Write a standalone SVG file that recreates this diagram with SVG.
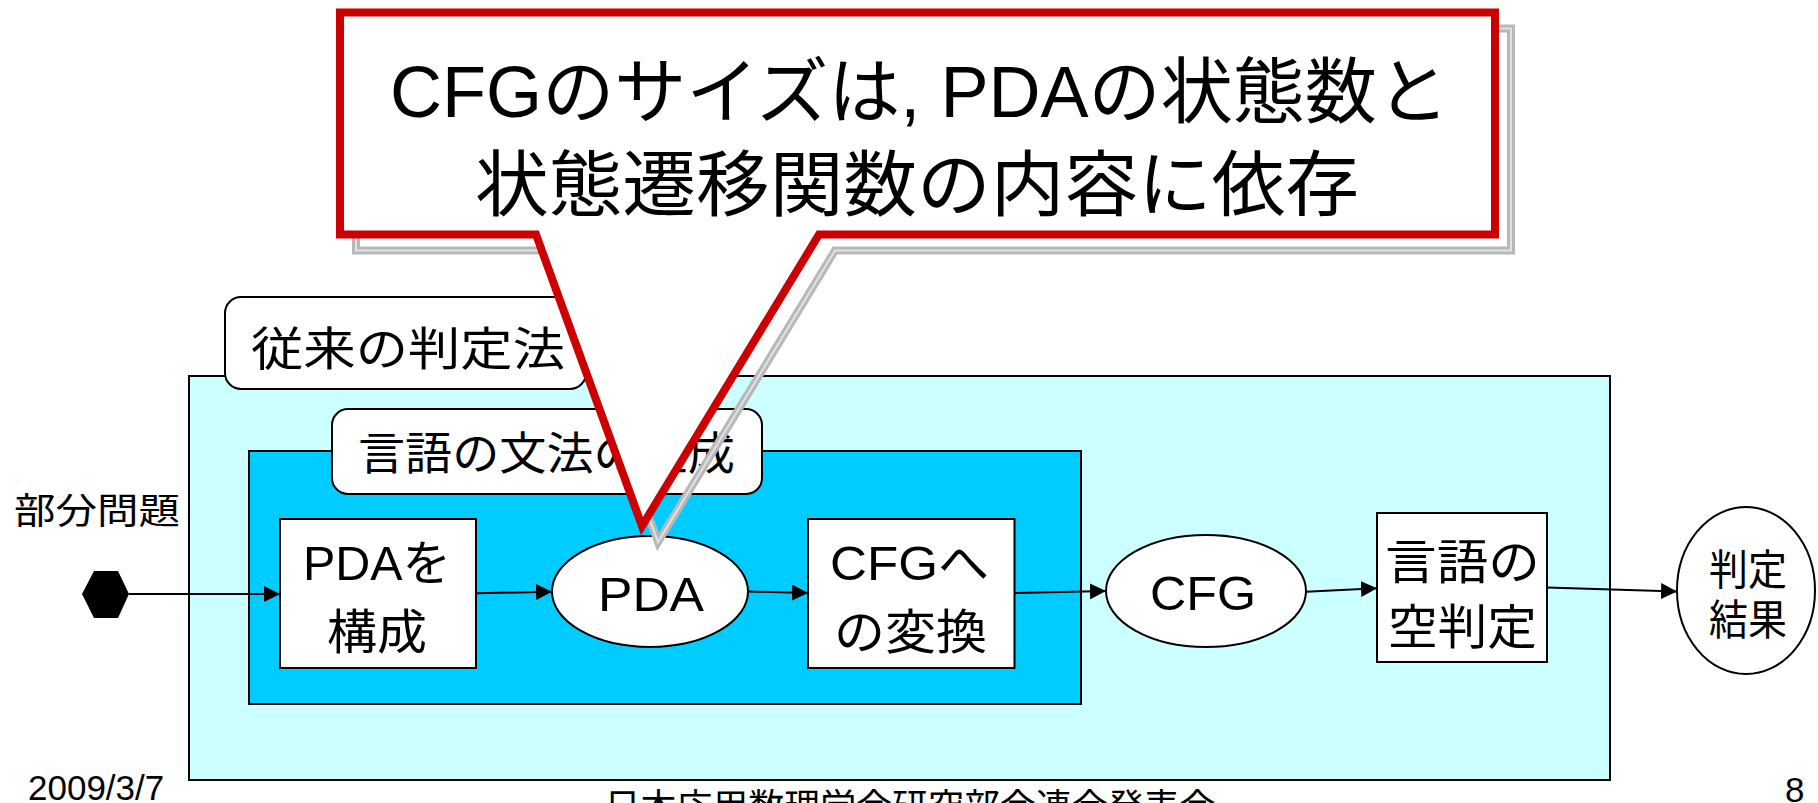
<svg xmlns="http://www.w3.org/2000/svg" width="1818" height="803" viewBox="0 0 1818 803">
  <defs>
    <marker id="arrow" viewBox="0 0 16 16" refX="16" refY="8" markerWidth="16" markerHeight="16" markerUnits="userSpaceOnUse" orient="auto">
      <path d="M0,0 L16,8 L0,16 Z" fill="#000"/>
    </marker>
    <path id="calloutShape" d="M340,12.5 H1495 V234.5 H819 L642,526 L536,234.5 H340 Z"/>
  </defs>
  <style>
    text { font-family: "Liberation Sans", "Noto Sans CJK JP", sans-serif; fill: #000; }
    .box { fill: #fff; stroke: #000; stroke-width: 2; }
    .label { fill: #fff; stroke: #000; stroke-width: 2; }
    .node { font-size: 48px; text-anchor: middle; }
    .conn { stroke: #000; stroke-width: 2; fill: none; marker-end: url(#arrow); }
    .foot { font-size: 35px; }
  </style>

  <g id="conventional-method">
    <rect x="189" y="376" width="1421" height="404" fill="#CCFFFF" stroke="#000" stroke-width="2"/>
    <rect x="225" y="297" width="361" height="92" rx="16" class="label"/>
    <text x="408" y="365" font-size="46" text-anchor="middle" textLength="314" lengthAdjust="spacingAndGlyphs">従来の判定法</text>
  </g>

  <g id="grammar-generation">
    <rect x="249" y="451" width="832" height="253" fill="#00CCFF" stroke="#000" stroke-width="2"/>
    <rect x="332" y="409" width="430" height="85" rx="16" class="label"/>
    <text x="546.5" y="470" font-size="45" text-anchor="middle" textLength="377" lengthAdjust="spacingAndGlyphs">言語の文法の生成</text>
  </g>

  <g id="subproblem">
    <polygon points="82,594 94,571 118,571 129,594 118,618 94,618" fill="#000"/>
    <text x="97" y="524" font-size="36" text-anchor="middle" textLength="166" lengthAdjust="spacingAndGlyphs">部分問題</text>
  </g>

  <g id="build-pda">
    <rect x="280" y="519" width="196" height="149" class="box"/>
    <text x="377" y="580" class="node" textLength="148" lengthAdjust="spacingAndGlyphs">PDAを</text>
    <text x="377" y="649" class="node" textLength="100" lengthAdjust="spacingAndGlyphs">構成</text>
  </g>

  <g id="pda">
    <ellipse cx="650" cy="591.5" rx="98" ry="55.5" class="box"/>
    <text x="651" y="611" class="node" textLength="106" lengthAdjust="spacingAndGlyphs">PDA</text>
  </g>

  <g id="to-cfg">
    <rect x="808" y="519" width="206.5" height="149" class="box"/>
    <text x="909.5" y="580" class="node" textLength="159" lengthAdjust="spacingAndGlyphs">CFGへ</text>
    <text x="910.5" y="649" class="node" textLength="153" lengthAdjust="spacingAndGlyphs">の変換</text>
  </g>

  <g id="cfg">
    <ellipse cx="1206" cy="591" rx="100" ry="56" class="box"/>
    <text x="1203" y="610" class="node" textLength="106" lengthAdjust="spacingAndGlyphs">CFG</text>
  </g>

  <g id="emptiness-check">
    <rect x="1377" y="513" width="170" height="149" class="box"/>
    <text x="1462.5" y="579" class="node" textLength="155" lengthAdjust="spacingAndGlyphs">言語の</text>
    <text x="1462.5" y="644" class="node" textLength="149" lengthAdjust="spacingAndGlyphs">空判定</text>
  </g>

  <g id="result">
    <ellipse cx="1746" cy="590.5" rx="69" ry="83.5" class="box"/>
    <text x="1748" y="585" font-size="42" text-anchor="middle" textLength="78" lengthAdjust="spacingAndGlyphs">判定</text>
    <text x="1748" y="635" font-size="42" text-anchor="middle" textLength="78" lengthAdjust="spacingAndGlyphs">結果</text>
  </g>

  <g id="connectors">
    <path class="conn" d="M129,594 L280,594"/>
    <path class="conn" d="M476,593.3 L552,591.7"/>
    <path class="conn" d="M748.5,591.5 L808,593"/>
    <path class="conn" d="M1014.5,593 L1106,591"/>
    <path class="conn" d="M1306,591.7 L1377,588.3"/>
    <path class="conn" d="M1547,587.5 L1677,591.5"/>
  </g>

  <g id="callout">
    <g transform="translate(16,16)">
      <use href="#calloutShape" fill="none" stroke="#b8b8b8" stroke-width="8"/>
      <use href="#calloutShape" fill="none" stroke="#e2e2e2" stroke-width="2"/>
    </g>
    <use href="#calloutShape" fill="#fff" stroke="#CC0000" stroke-width="8"/>
    <text x="919.5" y="117" font-size="72" text-anchor="middle" textLength="1059" lengthAdjust="spacingAndGlyphs">CFGのサイズは, PDAの状態数と</text>
    <text x="917" y="210" font-size="72" text-anchor="middle" textLength="884" lengthAdjust="spacingAndGlyphs">状態遷移関数の内容に依存</text>
  </g>

  <g id="footer">
    <text x="28" y="800" class="foot">2009/3/7</text>
    <text x="910" y="820" font-size="36" text-anchor="middle" textLength="611" lengthAdjust="spacingAndGlyphs">日本応用数理学会研究部会連合発表会</text>
    <text x="1785" y="802" class="foot">8</text>
  </g>
</svg>
